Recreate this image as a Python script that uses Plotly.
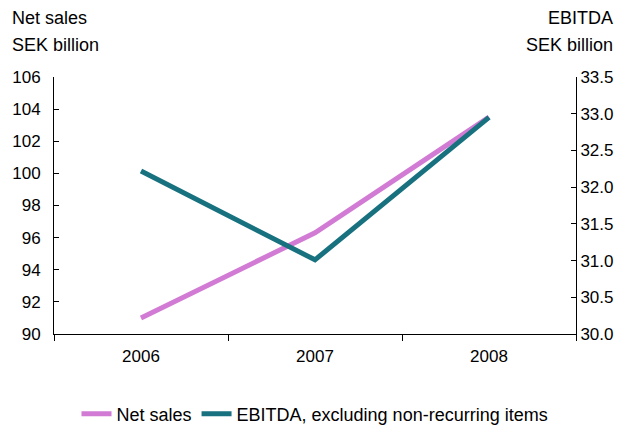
import plotly.graph_objects as go

years = ["2006", "2007", "2008"]
net_sales = [91.0, 96.3, 103.5]
ebitda = [32.22, 31.01, 32.95]

pink = "#d27bd4"
teal = "#17717f"
font = dict(family="Liberation Sans, Arial, sans-serif", size=17, color="#000000")
bigfont = dict(family="Liberation Sans, Arial, sans-serif", size=18, color="#000000")

fig = go.Figure()
fig.add_trace(go.Scatter(x=years, y=net_sales, mode="lines", name="Net sales",
                         line=dict(color=pink, width=5)))
fig.add_trace(go.Scatter(x=years, y=ebitda, mode="lines", name="EBITDA, excluding non-recurring items",
                         line=dict(color=teal, width=5), yaxis="y2"))

L, R, T, B = 54, 49, 77, 96
pw, ph = 625 - L - R, 430 - T - B

def px(x):
    return (x - L) / pw

def py(y):
    return (430 - B - y) / ph

fig.update_layout(
    width=625, height=430,
    margin=dict(l=L, r=R, t=T, b=B, autoexpand=False),
    paper_bgcolor="white", plot_bgcolor="white",
    font=font,
    showlegend=True,
    legend=dict(orientation="h", x=0.5, xanchor="center", yref="container", y=16 / 430,
                yanchor="middle", font=bigfont, itemwidth=30, tracegroupgap=0),
    xaxis=dict(type="category", range=[-0.5, 2.5], showline=True, linecolor="black", linewidth=1,
               ticks="outside", tickson="boundaries", ticklen=6, tickcolor="black",
               showgrid=False, zeroline=False, automargin=False, ticklabelstandoff=7),
    yaxis=dict(range=[90, 106], dtick=2, showline=True, linecolor="black", linewidth=1,
               ticks="inside", ticklen=5, tickcolor="black", showgrid=False, zeroline=False,
               ticklabelstandoff=9, automargin=False),
    yaxis2=dict(range=[30, 33.5], dtick=0.5, tickformat=".1f", overlaying="y", side="right",
                showline=True, linecolor="black", linewidth=1, ticks="inside", ticklen=5,
                tickcolor="black", showgrid=False, zeroline=False, automargin=False),
    annotations=[
        dict(text="Net sales", xref="paper", yref="paper", x=px(10), y=py(18),
             xanchor="left", yanchor="middle", showarrow=False, font=bigfont),
        dict(text="SEK billion", xref="paper", yref="paper", x=px(10), y=py(45),
             xanchor="left", yanchor="middle", showarrow=False, font=bigfont),
        dict(text="EBITDA", xref="paper", yref="paper", x=px(615), y=py(18),
             xanchor="right", yanchor="middle", showarrow=False, font=bigfont),
        dict(text="SEK billion", xref="paper", yref="paper", x=px(615), y=py(45),
             xanchor="right", yanchor="middle", showarrow=False, font=bigfont),
    ],
)

fig.write_html("out.html")
